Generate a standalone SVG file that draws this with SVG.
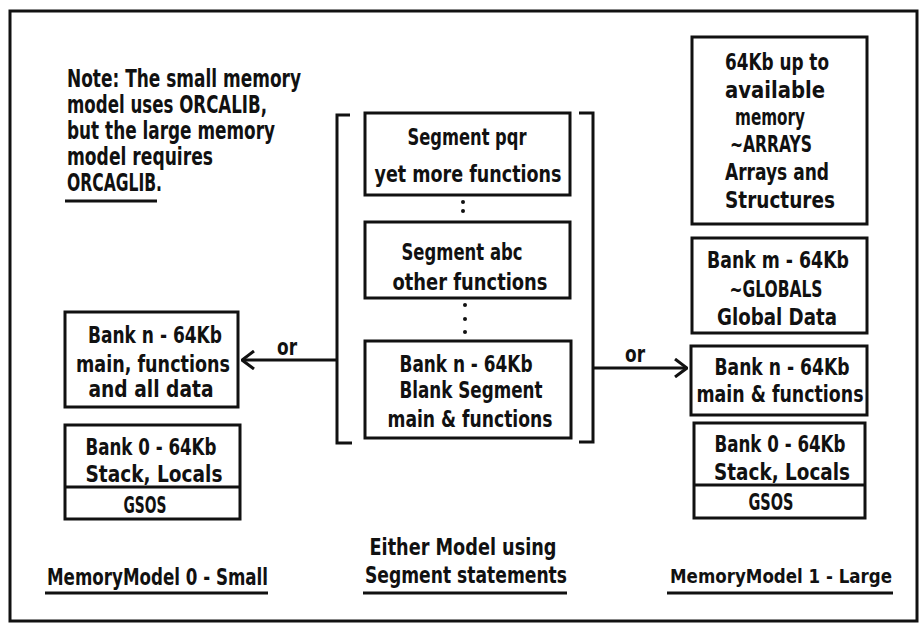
<svg xmlns="http://www.w3.org/2000/svg" width="924" height="625" viewBox="0 0 924 625">
<defs>
<style>
.b{fill:#fff;stroke:#111;stroke-width:3}
.l{fill:none;stroke:#111;stroke-width:3}
text{font-family:"DejaVu Sans Condensed","Liberation Sans",sans-serif;font-weight:bold;font-size:23px;fill:#111}
.c{text-anchor:middle}
.n{font-size:24px}
.t{font-size:19px}
</style>
<marker id="ah" viewBox="0 0 14 20" refX="13" refY="10" markerWidth="14" markerHeight="20" markerUnits="userSpaceOnUse" orient="auto">
<path d="M1,1 L13,10 L1,19" fill="none" stroke="#111" stroke-width="3"/>
</marker>
</defs>
<rect x="0" y="0" width="924" height="625" fill="#fff"/>
<rect x="10" y="11" width="907" height="610" class="l"/>

<g id="note">
<text class="n" x="67" y="87" textLength="234" lengthAdjust="spacingAndGlyphs">Note: The small memory</text>
<text class="n" x="67" y="113" textLength="200" lengthAdjust="spacingAndGlyphs">model uses ORCALIB,</text>
<text class="n" x="67" y="139" textLength="208" lengthAdjust="spacingAndGlyphs">but the large memory</text>
<text class="n" x="67" y="165" textLength="146" lengthAdjust="spacingAndGlyphs">model requires</text>
<text class="n" x="67" y="191" textLength="95" lengthAdjust="spacingAndGlyphs">ORCAGLIB.</text>
<line x1="65" y1="201" x2="157" y2="201" class="l"/>
</g>

<g id="segment-bracket">
<path d="M350,115 H337 V443 H352" class="l"/>
<path d="M579,113 H593 V442 H579" class="l"/>
</g>

<g id="seg-pqr">
<rect x="365" y="113" width="205" height="82" class="b"/>
<text class="c" x="467" y="145" textLength="119" lengthAdjust="spacingAndGlyphs">Segment pqr</text>
<text class="c" x="468" y="182" textLength="187" lengthAdjust="spacingAndGlyphs">yet more functions</text>
</g>
<g id="dots1">
<circle cx="463" cy="202" r="2" fill="#111"/>
<circle cx="463" cy="211" r="2" fill="#111"/>
</g>
<g id="seg-abc">
<rect x="365" y="222" width="205" height="76" class="b"/>
<text class="c" x="462" y="260" textLength="121" lengthAdjust="spacingAndGlyphs">Segment abc</text>
<text class="c" x="470" y="290" textLength="155" lengthAdjust="spacingAndGlyphs">other functions</text>
</g>
<g id="dots2">
<circle cx="465" cy="305" r="2" fill="#111"/>
<circle cx="465" cy="319" r="2" fill="#111"/>
<circle cx="465" cy="332" r="2" fill="#111"/>
</g>
<g id="seg-blank">
<rect x="365" y="341" width="206" height="97" class="b"/>
<text class="c" x="466" y="372" textLength="133" lengthAdjust="spacingAndGlyphs">Bank n - 64Kb</text>
<text class="c" x="471" y="398" textLength="143" lengthAdjust="spacingAndGlyphs">Blank Segment</text>
<text class="c" x="470" y="427" textLength="165" lengthAdjust="spacingAndGlyphs">main &amp; functions</text>
</g>
<g id="either-label">
<text class="c" x="463" y="555" textLength="187" lengthAdjust="spacingAndGlyphs">Either Model using</text>
<text class="c" x="466" y="583" textLength="202" lengthAdjust="spacingAndGlyphs">Segment statements</text>
<line x1="363" y1="593" x2="567" y2="593" class="l"/>
</g>

<g id="small-bank-n">
<rect x="65" y="312" width="173" height="95" class="b"/>
<text class="c" x="155" y="343" textLength="134" lengthAdjust="spacingAndGlyphs">Bank n - 64Kb</text>
<text class="c" x="153" y="372" textLength="154" lengthAdjust="spacingAndGlyphs">main, functions</text>
<text class="c" x="151" y="397" textLength="125" lengthAdjust="spacingAndGlyphs">and all data</text>
</g>
<g id="small-bank-0">
<rect x="65" y="425" width="175" height="94" class="b"/>
<line x1="65" y1="487" x2="240" y2="487" class="l"/>
<text class="c" x="151" y="455" textLength="131" lengthAdjust="spacingAndGlyphs">Bank 0 - 64Kb</text>
<text class="c" x="154" y="482" textLength="137" lengthAdjust="spacingAndGlyphs">Stack, Locals</text>
<text class="c" x="145" y="513" textLength="43" lengthAdjust="spacingAndGlyphs">GSOS</text>
</g>
<g id="small-label">
<text x="47" y="585" textLength="221" lengthAdjust="spacingAndGlyphs">MemoryModel 0 - Small</text>
<line x1="45" y1="593" x2="268" y2="593" class="l"/>
</g>

<g id="large-arrays">
<rect x="692" y="37" width="175" height="187" class="b"/>
<text class="c" x="777" y="70" textLength="104" lengthAdjust="spacingAndGlyphs">64Kb up to</text>
<text class="c" x="775" y="98" textLength="100" lengthAdjust="spacingAndGlyphs">available</text>
<text class="c" x="770" y="125" textLength="70" lengthAdjust="spacingAndGlyphs">memory</text>
<text class="c" x="771" y="152" textLength="82" lengthAdjust="spacingAndGlyphs">~ARRAYS</text>
<text class="c" x="777" y="180" textLength="104" lengthAdjust="spacingAndGlyphs">Arrays and</text>
<text class="c" x="780" y="208" textLength="110" lengthAdjust="spacingAndGlyphs">Structures</text>
</g>
<g id="large-bank-m">
<rect x="692" y="238" width="175" height="95" class="b"/>
<text class="c" x="778" y="268" textLength="142" lengthAdjust="spacingAndGlyphs">Bank m - 64Kb</text>
<text class="c" x="776" y="297" textLength="93" lengthAdjust="spacingAndGlyphs">~GLOBALS</text>
<text class="c" x="777" y="325" textLength="120" lengthAdjust="spacingAndGlyphs">Global Data</text>
</g>
<g id="large-bank-n">
<rect x="691" y="346" width="176" height="69" class="b"/>
<text class="c" x="782" y="375" textLength="135" lengthAdjust="spacingAndGlyphs">Bank n - 64Kb</text>
<text class="c" x="780" y="402" textLength="167" lengthAdjust="spacingAndGlyphs">main &amp; functions</text>
</g>
<g id="large-bank-0">
<rect x="694" y="423" width="171" height="95" class="b"/>
<line x1="694" y1="485" x2="865" y2="485" class="l"/>
<text class="c" x="780" y="452" textLength="131" lengthAdjust="spacingAndGlyphs">Bank 0 - 64Kb</text>
<text class="c" x="782" y="480" textLength="136" lengthAdjust="spacingAndGlyphs">Stack, Locals</text>
<text class="c" x="771" y="510" textLength="45" lengthAdjust="spacingAndGlyphs">GSOS</text>
</g>
<g id="large-label">
<text class="c t" x="781" y="583" textLength="222" lengthAdjust="spacingAndGlyphs">MemoryModel 1 - Large</text>
<line x1="667" y1="593" x2="893" y2="593" class="l"/>
</g>

<g id="connectors">
<line x1="337" y1="360" x2="242" y2="360" class="l" marker-end="url(#ah)"/>
<text x="277" y="355" textLength="20" lengthAdjust="spacingAndGlyphs">or</text>
<line x1="594" y1="368" x2="687" y2="368" class="l" marker-end="url(#ah)"/>
<text x="625" y="362" textLength="20" lengthAdjust="spacingAndGlyphs">or</text>
</g>
</svg>
